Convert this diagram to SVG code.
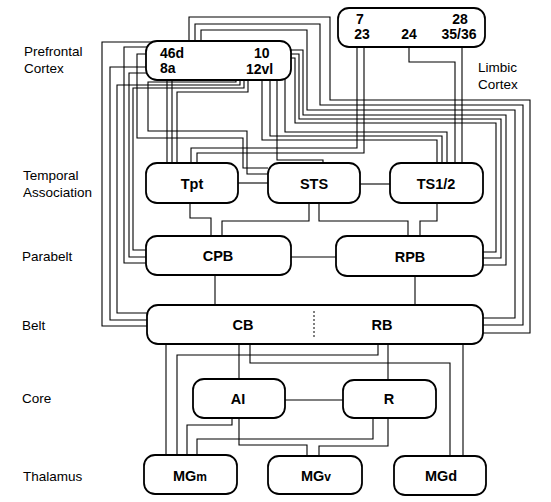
<svg xmlns="http://www.w3.org/2000/svg" width="551" height="502" viewBox="0 0 551 502">
<style>
.bx{fill:#fff;stroke:#000;stroke-width:1.8}
.w{fill:none;stroke:#000;stroke-width:1.1}
.lab{font-family:"Liberation Sans",Arial,sans-serif;font-size:13.5px;fill:#000}
.t{font-family:"Liberation Sans",Arial,sans-serif;font-size:14.5px;font-weight:bold;fill:#000;text-anchor:middle}
.n{font-family:"Liberation Sans",Arial,sans-serif;font-size:14px;font-weight:bold;fill:#000}
</style>
<rect width="551" height="502" fill="#fff"/>
<g id="connectors">
<path class="w" d="M153,42 H102 V326 H147"/>
<path class="w" d="M146,67 H110 V320 H147"/>
<path class="w" d="M148,47 H124 V263 H146"/>
<path class="w" d="M146,73 H129 V257 H146"/>
<path class="w" d="M146,54 H137 V138 H243 V168 H268"/>
<path class="w" d="M236,80 V82 H148 V131 H247 V174 H268"/>
<path class="w" d="M240,80 V85 H117 V313 H147"/>
<path class="w" d="M244,80 V88 H133 V250 H146"/>
<path class="w" d="M248,80 V92 H177 V163"/>
<path class="w" d="M167,80 V163"/>
<path class="w" d="M172,80 V163"/>
<path class="w" d="M189,41 V17 H330 V100 H530 V333 H483"/>
<path class="w" d="M195,41 V24 H320 V105 H523 V325 H483"/>
<path class="w" d="M201,41 V30 H307 V110 H515 V318 H483"/>
<path class="w" d="M291,50 H303 V115 H506 V265 H483"/>
<path class="w" d="M291,54 H299 V119 H501 V258 H483"/>
<path class="w" d="M290,58 H295 V123 H496 V252 H483"/>
<path class="w" d="M262,80 V140 H437 V164"/>
<path class="w" d="M270,80 V136 H442 V164"/>
<path class="w" d="M285,79 V132 H447 V164"/>
<path class="w" d="M277,79 V160 H323 V163"/>
<path class="w" d="M357,47 V148 H191 V163"/>
<path class="w" d="M364,47 V153 H197 V163"/>
<path class="w" d="M409,47 V62 H455 V164"/>
<path class="w" d="M462,47 V164"/>
<path class="w" d="M238,183 H268"/>
<path class="w" d="M360,184 H390"/>
<path class="w" d="M190,203 V218 H211 V236"/>
<path class="w" d="M309,203 V221 H222 V236"/>
<path class="w" d="M319,203 V221 H408 V236"/>
<path class="w" d="M437,203 V221 H420 V236"/>
<path class="w" d="M291,257 H336"/>
<path class="w" d="M215,275 V305"/>
<path class="w" d="M415,276 V305"/>
<path class="w" d="M166,344 V455"/>
<path class="w" d="M378,344 V355 H177 V455"/>
<path class="w" d="M250,344 V363 H450 V456"/>
<path class="w" d="M463,344 V456"/>
<path class="w" d="M239,344 V379"/>
<path class="w" d="M388,344 V380"/>
<path class="w" d="M232,418 V425 H187 V455"/>
<path class="w" d="M239,418 V445 H307 V456"/>
<path class="w" d="M373,418 V439 H197 V455"/>
<path class="w" d="M388,418 V446 H319 V456"/>
<path class="w" d="M285,400 H343"/>
</g>
<g id="prefrontal">
<rect class="bx" x="146" y="41" width="145" height="39" rx="11"/>
<text class="n" x="160" y="58">46d</text>
<text class="n" x="160" y="73">8a</text>
<text class="n" x="254" y="58">10</text>
<text class="n" x="246" y="74">12vl</text>
</g>
<g id="limbic">
<rect class="bx" x="338" y="8" width="147" height="39" rx="11"/>
<text class="n" x="360" y="24" text-anchor="middle">7</text>
<text class="n" x="362" y="39" text-anchor="middle">23</text>
<text class="n" x="409" y="39" text-anchor="middle">24</text>
<text class="n" x="460" y="24" text-anchor="middle">28</text>
<text class="n" x="459" y="39" text-anchor="middle">35/36</text>
</g>
<g id="Tpt"><rect class="bx" x="146" y="163" width="92" height="40" rx="11"/><text class="t" x="192" y="189">Tpt</text></g>
<g id="STS"><rect class="bx" x="268" y="163" width="92" height="40" rx="11"/><text class="t" x="314" y="189">STS</text></g>
<g id="TS12"><rect class="bx" x="390" y="163" width="93" height="40" rx="11"/><text class="t" x="436" y="189">TS1/2</text></g>
<g id="CPB"><rect class="bx" x="146" y="236" width="145" height="39" rx="11"/><text class="t" x="218" y="261">CPB</text></g>
<g id="RPB"><rect class="bx" x="336" y="236" width="147" height="40" rx="11"/><text class="t" x="410" y="262">RPB</text></g>
<g id="belt"><rect class="bx" x="147" y="305" width="336" height="39" rx="11"/>
<path d="M314,311 V339" fill="none" stroke="#000" stroke-width="1" stroke-dasharray="2,2"/>
<text class="t" x="243" y="330">CB</text><text class="t" x="382" y="330">RB</text></g>
<g id="AI"><rect class="bx" x="193" y="379" width="92" height="39" rx="11"/><text class="t" x="238" y="404">AI</text></g>
<g id="R"><rect class="bx" x="343" y="380" width="93" height="38" rx="11"/><text class="t" x="389" y="404">R</text></g>
<g id="MGm"><rect class="bx" x="144" y="455" width="93" height="39" rx="11"/><text class="t" x="190" y="481">MG<tspan font-size="12">m</tspan></text></g>
<g id="MGv"><rect class="bx" x="268" y="456" width="94" height="38" rx="11"/><text class="t" x="316" y="481">MG<tspan font-size="12">v</tspan></text></g>
<g id="MGd"><rect class="bx" x="394" y="456" width="92" height="39" rx="11"/><text class="t" x="441" y="481">MGd</text></g>
<g id="labels">
<text class="lab" x="24" y="56">Prefrontal</text>
<text class="lab" x="24" y="73">Cortex</text>
<text class="lab" x="478" y="72">Limbic</text>
<text class="lab" x="478" y="89">Cortex</text>
<text class="lab" x="23" y="180">Temporal</text>
<text class="lab" x="23" y="197">Association</text>
<text class="lab" x="22" y="261">Parabelt</text>
<text class="lab" x="22" y="330">Belt</text>
<text class="lab" x="22" y="403">Core</text>
<text class="lab" x="23" y="481">Thalamus</text>
</g>
</svg>
